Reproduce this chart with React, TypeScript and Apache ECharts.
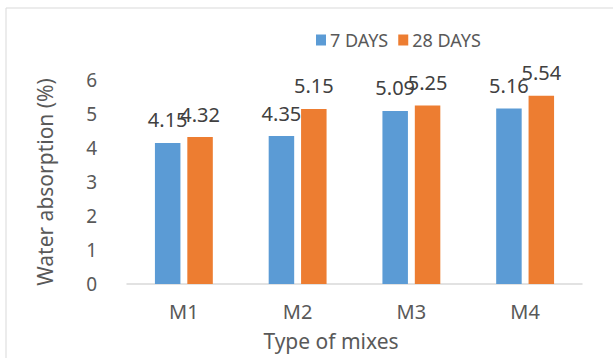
import React, { useEffect, useRef } from "react";
import * as echarts from "echarts";

const categories = ["M1", "M2", "M3", "M4"];
const days7 = [4.15, 4.35, 5.09, 5.16];
const days28 = [4.32, 5.15, 5.25, 5.54];
const seriesNames = ["7 DAYS", "28 DAYS"];

const FONT = "'Noto Sans', 'Open Sans', sans-serif";

export default function App() {
  const ref = useRef<HTMLDivElement>(null);

  useEffect(() => {
    document.body.style.margin = "0";
    if (!ref.current) return;
    const chart = echarts.init(ref.current, undefined, { renderer: "svg" });
    const label = {
      show: true,
      position: "top" as const,
      distance: 13,
      color: "#404040",
      fontSize: 20,
      fontFamily: FONT,
    };
    chart.setOption({
      animation: false,
      backgroundColor: "#ffffff",
      textStyle: { fontFamily: FONT },
      graphic: [
        {
          type: "rect",
          shape: { x: 6, y: 8, width: 700, height: 400 },
          style: { fill: "none", stroke: "#d9d9d9", lineWidth: 1 },
          silent: true,
        },
      ],
      legend: {
        left: 311,
        top: 26,
        itemWidth: 10,
        itemHeight: 11,
        itemGap: 10,
        icon: "rect",
        textStyle: { color: "#595959", fontSize: 18, fontFamily: FONT, padding: [0, 0, 0, -1] },
        data: seriesNames,
      },
      grid: { left: 127, right: 31, top: 80, bottom: 74 },
      xAxis: {
        type: "category",
        data: categories,
        name: "Type of mixes",
        nameLocation: "middle",
        nameGap: 46,
        nameTextStyle: { color: "#595959", fontSize: 21, fontFamily: FONT, padding: [0, 47, 0, 0] },
        axisLine: { lineStyle: { color: "#d9d9d9", width: 1.5 } },
        axisTick: { show: false },
        axisLabel: { color: "#595959", fontSize: 20, margin: 17, fontFamily: FONT },
      },
      yAxis: {
        type: "value",
        min: 0,
        max: 6,
        interval: 1,
        name: "Water absorption (%)",
        nameLocation: "middle",
        nameGap: 72,
        nameTextStyle: { color: "#595959", fontSize: 21, fontFamily: FONT },
        axisLine: { show: false },
        axisTick: { show: false },
        splitLine: { show: false },
        axisLabel: { color: "#595959", fontSize: 19, margin: 30, fontFamily: FONT },
      },
      series: [
        {
          name: seriesNames[0],
          type: "bar",
          data: days7,
          barWidth: 25.5,
          barGap: "27%",
          itemStyle: { color: "#5b9bd5" },
          label,
        },
        {
          name: seriesNames[1],
          type: "bar",
          data: days28,
          barWidth: 25.5,
          barGap: "27%",
          itemStyle: { color: "#ed7d31" },
          label,
        },
      ],
    });
    return () => chart.dispose();
  }, []);

  return <div ref={ref} style={{ width: 613, height: 358 }} />;
}
